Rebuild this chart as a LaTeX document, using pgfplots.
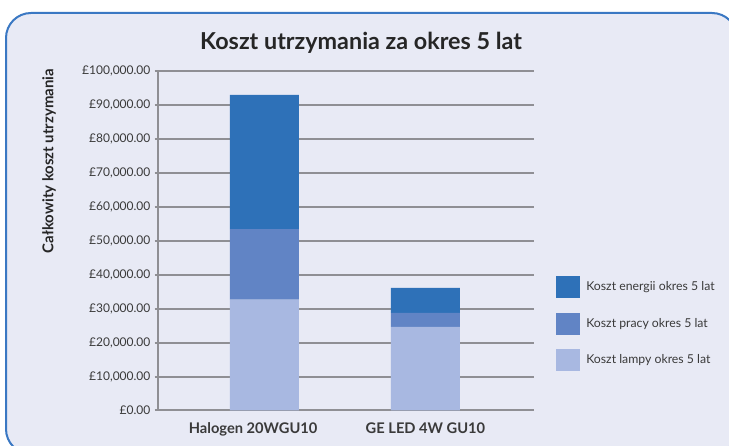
\documentclass[border=0pt]{standalone}
\usepackage{pgfplots}
\pgfplotsset{compat=1.18}
\usepackage{fontspec}
\setmainfont{Lato}

\definecolor{frameblue}{HTML}{3A78C3}
\definecolor{panelbg}{HTML}{E8EAF5}
\definecolor{gridgray}{HTML}{8F8F94}
\definecolor{energia}{HTML}{2E71B8}
\definecolor{praca}{HTML}{6184C5}
\definecolor{lampa}{HTML}{A8B8E1}
\definecolor{txt}{HTML}{3A3A3A}

\begin{document}
\begin{tikzpicture}[x=0.75pt,y=0.75pt]
\useasboundingbox (0,0) rectangle (729,446);
\clip (0,0) rectangle (729,446);
\fill[white] (0,0) rectangle (729,446);
\draw[frameblue, line width=1.5pt, fill=panelbg, rounded corners=18.75pt]
  (6,{446-13}) rectangle (737,{446-454});
\node[anchor=base, font=\fontsize{17.5}{20}\selectfont\bfseries, text=black!85]
  at (361,{446-50}) {Koszt utrzymania za okres 5 lat};

\begin{axis}[
  at={(118.5pt,26.625pt)}, anchor=south west,
  width=282pt, height=254.9pt, scale only axis,
  ybar stacked, bar width=51.75pt,
  xmin=-0.661, xmax=1.674, ymin=0, ymax=100000,
  scaled y ticks=false,
  axis x line*=bottom, axis y line*=left,
  axis line style={gridgray, line width=1.5pt},
  ymajorgrids, grid style={gridgray, line width=1.5pt},
  ytick={0,10000,...,100000},
  yticklabels={£0.00,{£10,000.00},{£20,000.00},{£30,000.00},{£40,000.00},{£50,000.00},{£60,000.00},{£70,000.00},{£80,000.00},{£90,000.00},{£100,000.00}},
  xtick={0,1}, xticklabels={{Halogen 20WGU10\hspace*{17pt}},GE LED 4W GU10},
  x tick style={draw=none},
  y tick style={gridgray, line width=1.5pt},
  tick align=outside, major tick length=2.5pt,
  yticklabel style={font=\fontsize{9}{10}\selectfont, text=txt, inner xsep=0pt, xshift=-3pt},
  xticklabel style={font=\fontsize{11}{13}\selectfont\bfseries, text=txt, yshift=-3pt},
  ylabel={Całkowity koszt utrzymania},
  ylabel style={font=\fontsize{11.2}{13}\selectfont\bfseries, text=black!85,
    at={(axis description cs:-0.29,0.734)}, anchor=center},
  reverse legend,
  legend image code/.code={\fill[#1] (0pt,-8.25pt) rectangle (18pt,8.25pt);},
  legend style={at={(axis description cs:1.0585,0.396)}, anchor=north west,
    draw=none, fill=none, inner sep=0pt, row sep=10.8pt, column sep=4.5pt,
    nodes={inner sep=0pt, anchor=west, font=\fontsize{9.2}{11}\selectfont, text=txt}},
]
\addplot[fill=lampa, draw=none] coordinates {(0,32600) (1,24600)};
\addplot[fill=praca, draw=none] coordinates {(0,20800) (1,4100)};
\addplot[fill=energia, draw=none] coordinates {(0,39500) (1,7400)};
\legend{Koszt lampy okres 5 lat,Koszt pracy okres 5 lat,Koszt energii okres 5 lat}
\end{axis}
\end{tikzpicture}
\end{document}
